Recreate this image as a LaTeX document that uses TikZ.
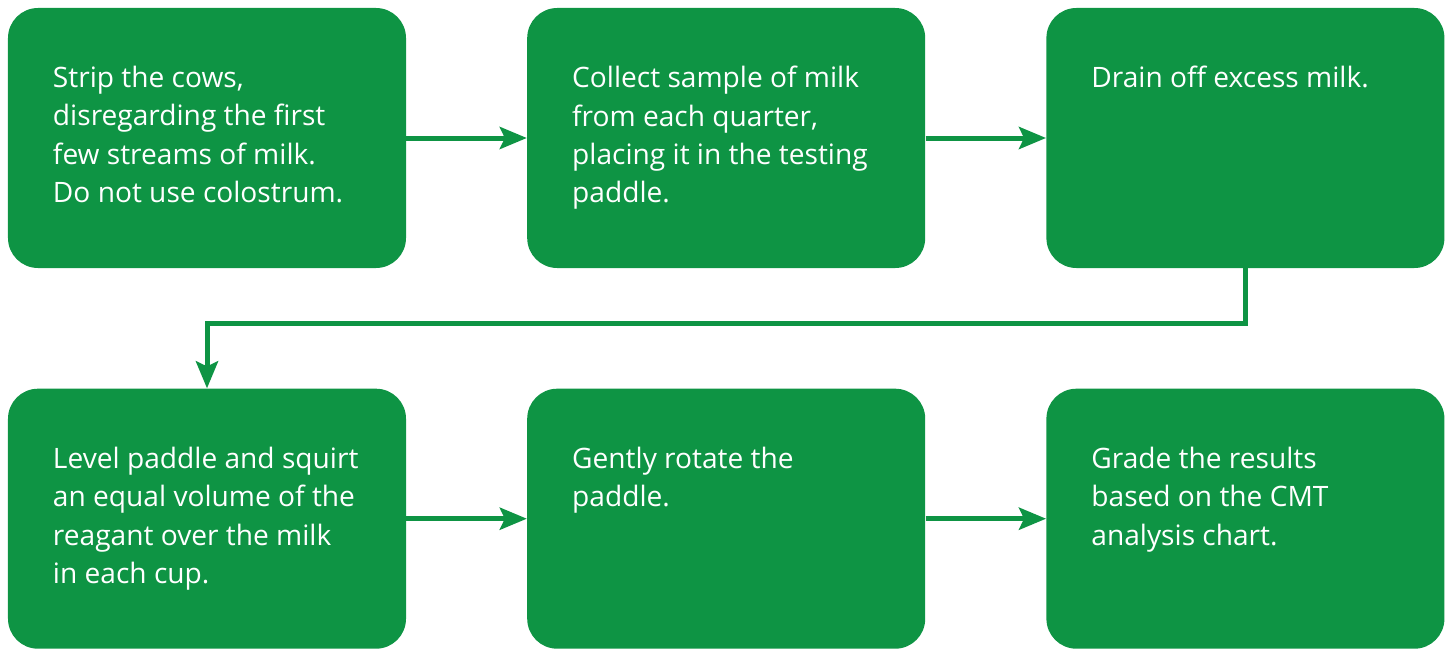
\documentclass[tikz,border=0pt]{standalone}
\usepackage{fontspec}
\setmainfont{Open Sans}
\usepackage{xcolor}
\usetikzlibrary{arrows, arrows.meta, positioning}
\definecolor{cmtgreen}{RGB}{14,148,68}
\tikzstyle{arrow} = [line width=0.1cm, draw=cmtgreen, -{Stealth[length=0.54cm, width=0.44cm, inset=0.1cm]}]

\begin{document}
\begin{tikzpicture}[node distance=2.41cm]
    \tikzstyle{stepbox} = [rectangle, rounded corners=0.6cm, fill=cmtgreen, minimum width=7.96cm, minimum height=5.2cm, inner sep=0pt]
    \tikzstyle{txt} = [inner sep=0pt, align=left, text=white, font=\fontsize{16}{21.9}\selectfont]
    \useasboundingbox (0,0) rectangle (29.04,-12.96);

    \node[stepbox] (strip) at (4.14,-2.76) {};
    \node[stepbox, right=of strip] (collect) {};
    \node[stepbox, right=of collect] (drain) {};
    \node[stepbox, below=2.4cm of strip] (level) {};
    \node[stepbox, right=of level] (rotate) {};
    \node[stepbox, right=of rotate] (grade) {};

    \node[txt, below right=1.16cm and 0.9cm of strip.north west] (strip-t) {Strip the cows,\\disregarding the first\\few streams of milk.\\Do not use colostrum.};
    \node[txt, below right=1.16cm and 0.9cm of collect.north west] (collect-t) {Collect sample of milk\\from each quarter,\\placing it in the testing\\paddle.};
    \node[txt, below right=1.16cm and 0.9cm of drain.north west] (drain-t) {Drain off excess milk.};
    \node[txt, below right=1.16cm and 0.9cm of level.north west] (level-t) {Level paddle and squirt\\an equal volume of the\\reagant over the milk\\in each cup.};
    \node[txt, below right=1.16cm and 0.9cm of rotate.north west] (rotate-t) {Gently rotate the\\paddle.};
    \node[txt, below right=1.16cm and 0.9cm of grade.north west] (grade-t) {Grade the results\\based on the CMT\\analysis chart.};

    \draw[arrow] (strip) -- (collect);
    \draw[arrow] (collect) -- (drain);
    \draw[arrow] (drain.south) -- ++(0,-1.11cm) -| (level.north);
    \draw[arrow] (level) -- (rotate);
    \draw[arrow] (rotate) -- (grade);
\end{tikzpicture}
\end{document}
